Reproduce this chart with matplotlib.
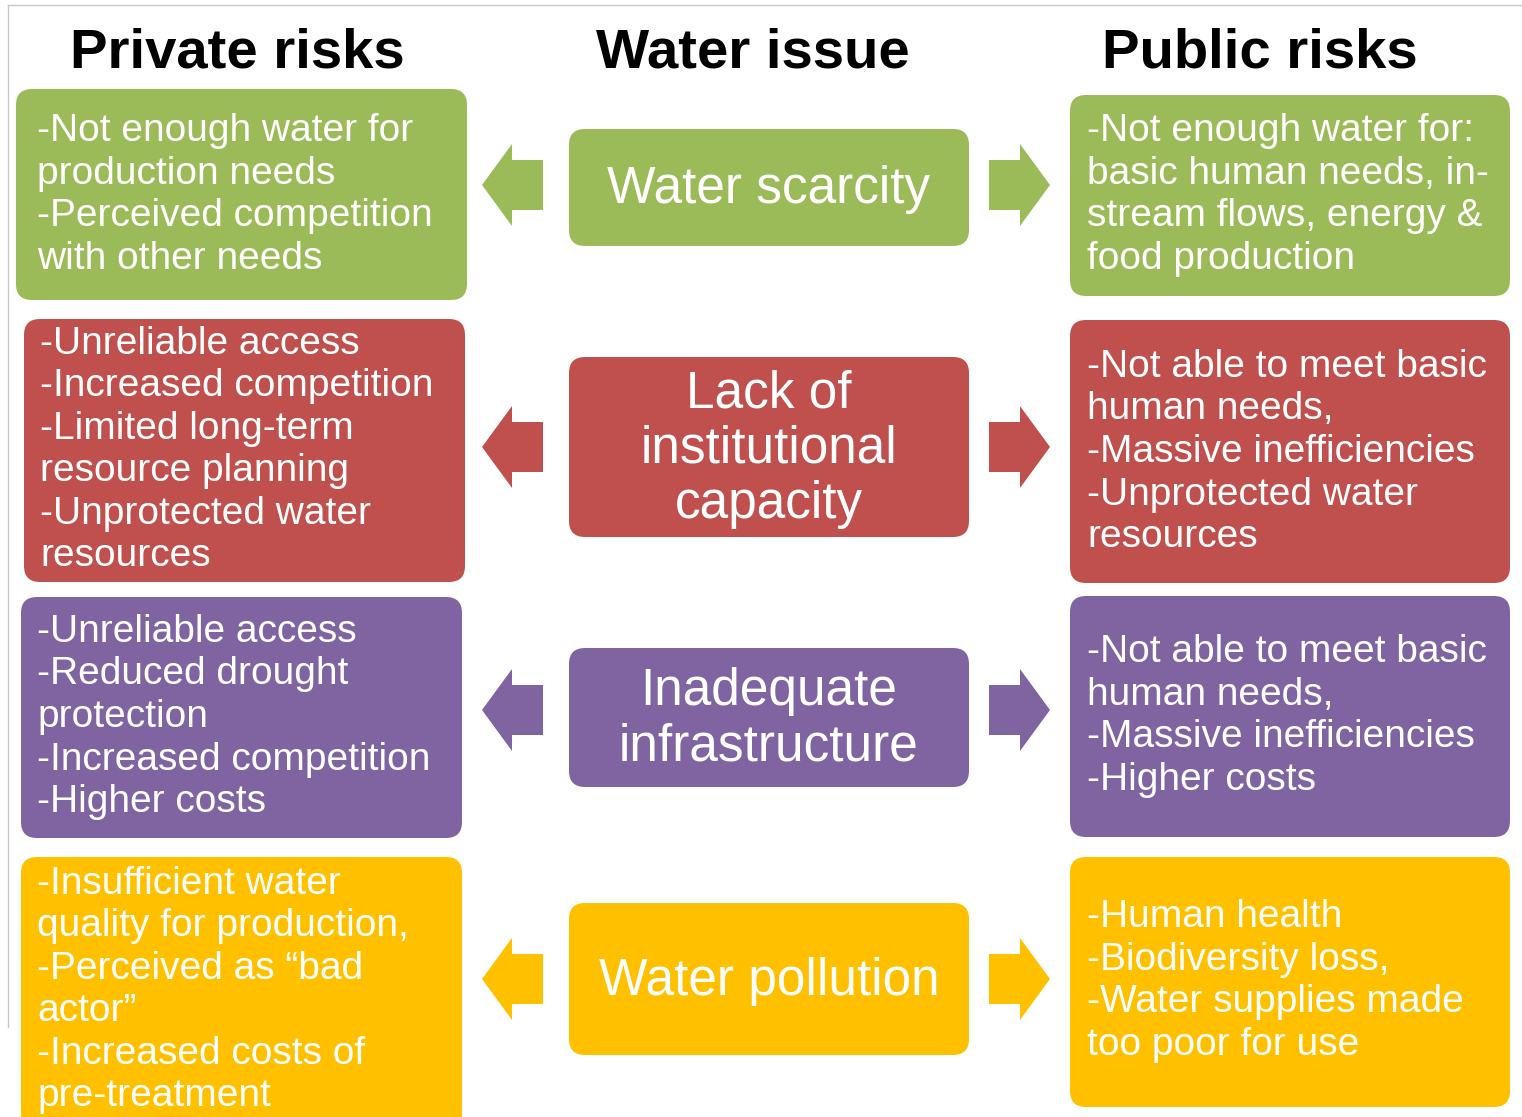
import matplotlib.pyplot as plt
from matplotlib.patches import FancyBboxPatch, Polygon

# text content
headers = ["Private risks", "Water issue", "Public risks"]
issues = ["Water scarcity", "Lack of\ninstitutional\ncapacity",
          "Inadequate\ninfrastructure", "Water pollution"]
private_risks = [
    "-Not enough water for\nproduction needs\n-Perceived competition\nwith other needs",
    "-Unreliable access\n-Increased competition\n-Limited long-term\nresource planning\n-Unprotected water\nresources",
    "-Unreliable access\n-Reduced drought\nprotection\n-Increased competition\n-Higher costs",
    "-Insufficient water\nquality for production,\n-Perceived as \u201cbad\nactor\u201d\n-Increased costs of\npre-treatment",
]
public_risks = [
    "-Not enough water for:\nbasic human needs, in-\nstream flows, energy &\nfood production",
    "-Not able to meet basic\nhuman needs,\n-Massive inefficiencies\n-Unprotected water\nresources",
    "-Not able to meet basic\nhuman needs,\n-Massive inefficiencies\n-Higher costs",
    "-Human health\n-Biodiversity loss,\n-Water supplies made\ntoo poor for use",
]
colors = ["#9BBB59", "#C0504D", "#8064A2", "#FFC000"]

# layout in pixels (x0, y0, x1, y1)
left_boxes = [(16, 89, 467, 300), (24, 319, 465, 582), (21, 597, 462, 838), (21, 857, 462, 1130)]
mid_boxes = [(569, 129, 969, 246), (569, 357, 969, 537), (569, 648, 969, 787), (569, 903, 969, 1055)]
right_boxes = [(1070, 95, 1510, 296), (1070, 320, 1510, 583), (1070, 596, 1510, 837), (1070, 857, 1510, 1107)]
left_text = [(37, 195), (40, 450), (37, 717), (37, 990)]
right_text = [(1087, 195), (1087, 452), (1087, 716), (1087, 981)]
arrow_y = [185, 447, 710, 979]

W, H = 1522, 1117
fig = plt.figure(figsize=(W / 100, H / 100), dpi=100)
ax = fig.add_axes([0, 0, 1, 1])
ax.set_xlim(0, W)
ax.set_ylim(H, 0)
ax.axis('off')

# thin frame lines
ax.plot([8, W], [5, 5], color='#c8c8c8', lw=1)
ax.plot([8, 8], [5, 1027], color='#c8c8c8', lw=1)

def box(b, c):
    x0, y0, x1, y1 = b
    r = 16
    p = FancyBboxPatch((x0 + r, y0 + r), x1 - x0 - 2 * r, y1 - y0 - 2 * r,
                       boxstyle="round,pad=%d" % r, fc=c, ec='none')
    ax.add_patch(p)

def arrow(xt, xe, y, c):
    # tip at xt, tail at xe
    hl = 30 if xe > xt else -30
    pts = [(xt, y), (xt + hl, y - 41), (xt + hl, y - 25), (xe, y - 25),
           (xe, y + 25), (xt + hl, y + 25), (xt + hl, y + 41)]
    ax.add_patch(Polygon(pts, closed=True, fc=c, ec='none'))

fam = ['Liberation Sans', 'DejaVu Sans']
hx = [237, 753, 1260]
for x, t in zip(hx, headers):
    ax.text(x, 54, t, ha='center', va='center', fontsize=40.5, fontweight='bold',
            family=fam, color='black')

for i in range(4):
    c = colors[i]
    box(left_boxes[i], c)
    box(mid_boxes[i], c)
    box(right_boxes[i], c)
    arrow(482, 543, arrow_y[i], c)
    arrow(1050, 989, arrow_y[i], c)
    mb = mid_boxes[i]
    ax.text((mb[0] + mb[2]) / 2, (mb[1] + mb[3]) / 2 + 2, issues[i], ha='center', va='center',
            fontsize=37, color='white', linespacing=1.16, family=fam)
    ax.text(left_text[i][0], left_text[i][1], private_risks[i], ha='left', va='center',
            fontsize=28, color='white', linespacing=1.235, family=fam)
    ax.text(right_text[i][0], right_text[i][1], public_risks[i], ha='left', va='center',
            fontsize=28, color='white', linespacing=1.235, family=fam)

fig.savefig('out.png', dpi=100)
